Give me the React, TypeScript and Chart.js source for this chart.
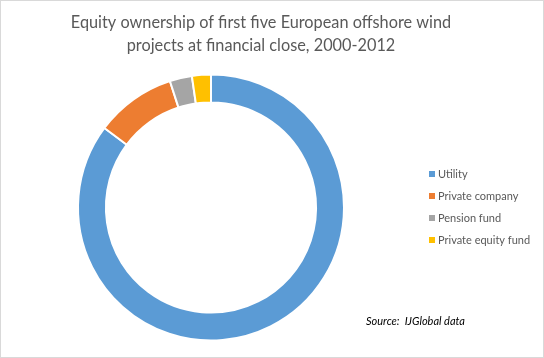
import React, { useEffect, useRef } from "react";
import { Chart, registerables } from "chart.js";

Chart.register(...registerables);

const titleLines = [
  "Equity ownership of first five European offshore wind",
  "projects at financial close, 2000-2012",
];
const categories = ["Utility", "Private company", "Pension fund", "Private equity fund"];
const shares = [85.2, 9.8, 2.7, 2.3];
const colors = ["#5b9bd5", "#ed7d31", "#a5a5a5", "#ffc000"];
const sourceText = "Source:  IJGlobal data";

const FONT = "Lato, 'Open Sans', sans-serif";

const overlay = {
  id: "overlay",
  afterDraw(chart: any) {
    const ctx = chart.ctx as CanvasRenderingContext2D;
    ctx.save();
    // title
    ctx.fillStyle = "#595959";
    ctx.font = `16.3px ${FONT}`;
    ctx.textAlign = "center";
    ctx.textBaseline = "middle";
    titleLines.forEach((t, i) => ctx.fillText(t, 260, 22 + i * 23));
    // legend
    ctx.font = `11px ${FONT}`;
    ctx.textAlign = "left";
    const labels = chart.data.labels as string[];
    const bg = chart.data.datasets[0].backgroundColor as string[];
    labels.forEach((l, i) => {
      const y = 173 + i * 22;
      ctx.fillStyle = bg[i];
      ctx.fillRect(428, y - 3, 6, 6);
      ctx.fillStyle = "#595959";
      ctx.fillText(l, 437, y);
    });
    // source
    ctx.fillStyle = "#000000";
    ctx.font = `italic 11px ${FONT}`;
    ctx.fillText(sourceText, 365, 320);
    ctx.restore();
  },
};

export default function App() {
  const ref = useRef<HTMLCanvasElement>(null);
  useEffect(() => {
    document.body.style.margin = "0";
    const chart = new Chart(ref.current!, {
      type: "doughnut",
      data: {
        labels: categories,
        datasets: [
          {
            data: shares,
            backgroundColor: colors,
            borderColor: "#ffffff",
            borderWidth: 2,
          },
        ],
      },
      options: {
        animation: false,
        responsive: false,
        cutout: "79%",
        layout: { padding: { left: 76, right: 198, top: 72, bottom: 15 } },
        plugins: {
          legend: { display: false },
          title: { display: false },
          tooltip: { enabled: false },
        },
      },
      plugins: [overlay],
    });
    return () => chart.destroy();
  }, []);
  return (
    <div
      style={{
        position: "relative",
        width: 544,
        height: 358,
        boxSizing: "border-box",
        border: "1px solid #d9d9d9",
        background: "#fff",
      }}
    >
      <canvas
        ref={ref}
        width={542}
        height={356}
        style={{ position: "absolute", left: 0, top: 0 }}
      />
    </div>
  );
}
